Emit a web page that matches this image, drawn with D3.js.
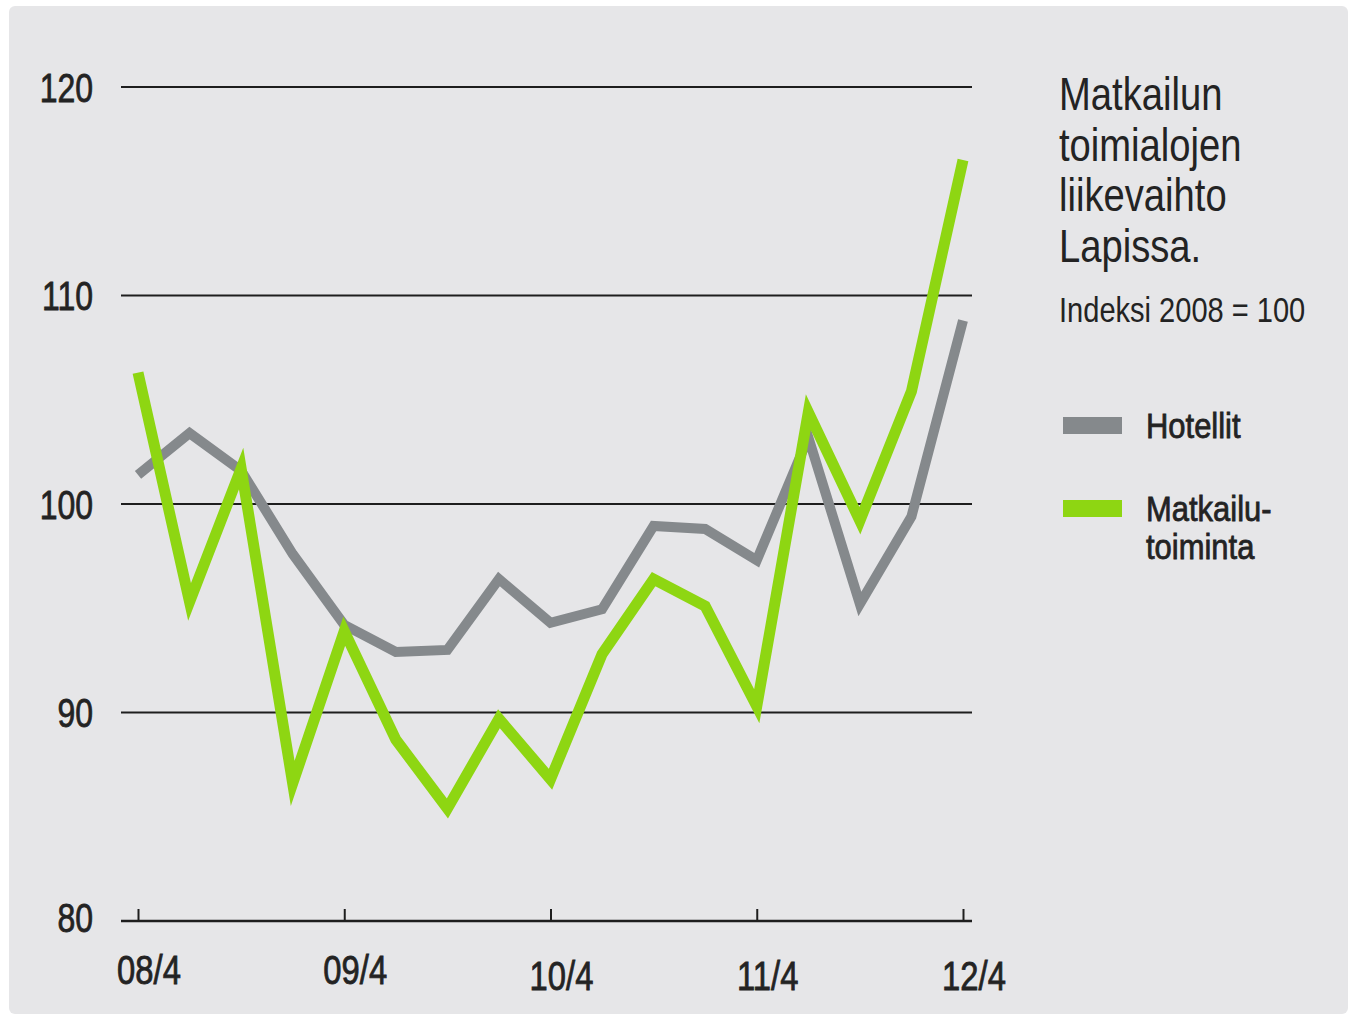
<!DOCTYPE html>
<html>
<head>
<meta charset="utf-8">
<script src="https://cdn.jsdelivr.net/npm/d3@7"></script>
<style>
    html, body { margin: 0; padding: 0; background: #ffffff; }
    svg text { font-family: "Liberation Sans", Arimo, Arial, sans-serif; fill: #232323; }
    svg text.medium { stroke: #232323; stroke-width: 0.8px; }
</style>
</head>
<body>
<div id="chart"></div>
<script>
"use strict";

// ------------------------- Data -------------------------

const quarters = ['08/4', '09/1', '09/2', '09/3', '09/4', '10/1', '10/2', '10/3', '10/4',
    '11/1', '11/2', '11/3', '11/4', '12/1', '12/2', '12/3', '12/4'];
const xTickLabels = ['08/4', '09/4', '10/4', '11/4', '12/4'];
const yTicks = [80, 90, 100, 110, 120];

const hotellit = [101.4, 103.4, 101.6, 97.6, 94.2, 92.9, 93.0, 96.4, 94.3,
    94.95, 98.95, 98.8, 97.3, 103.2, 95.2, 99.4, 108.8];
const matkailutoiminta = [106.3, 95.3, 101.7, 86.6, 93.9, 88.7, 85.4, 89.7, 86.8,
    92.8, 96.4, 95.1, 90.3, 104.4, 99.2, 105.4, 116.5];

const seriesNames = ['Hotellit', 'Matkailu-|toiminta'];
const seriesColors = ['#85898c', '#8ed612'];
const titleLines = ['Matkailun', 'toimialojen', 'liikevaihto', 'Lapissa.'];
const subtitle = 'Indeksi 2008 = 100';

// ------------------------- Layout -------------------------

const width = 1348;
const height = 1014;

const svg = d3.select('#chart')
    .append('svg')
    .attr('width', width)
    .attr('height', height);

svg.append('rect')
    .attr('x', 9)
    .attr('y', 6)
    .attr('width', width - 9)
    .attr('height', height - 6)
    .attr('rx', 6)
    .attr('fill', '#e6e6e8');

const x = d3.scalePoint()
    .domain(quarters)
    .range([138, 963]);

const y = d3.scaleLinear()
    .domain([80, 120])
    .range([921, 87]);

// The original typeface is a condensed grotesque; squeeze a regular one horizontally
function condense(selection, factor, px, py) {
    selection.attr('transform', (d, i) => `translate(${px(d, i)},${py(d, i)}) scale(${factor},1)`);
}

// ------------------------- Grid & axes -------------------------

svg.append('g')
    .selectAll('line')
    .data(yTicks.filter(t => t > 80))
    .join('line')
    .attr('x1', 121)
    .attr('x2', 972)
    .attr('y1', d => y(d))
    .attr('y2', d => y(d))
    .attr('stroke', '#1e1e1e')
    .attr('stroke-width', 2);

svg.append('g')
    .selectAll('text')
    .data(yTicks)
    .join('text')
    .classed('medium', true)
    .attr('dy', '0.36em')
    .attr('text-anchor', 'end')
    .style('font-size', '41px')
    .text(d => d)
    .call(condense, 0.78, () => 93, (d, i) => y(d) - (i === 0 ? 4 : 0));

const xAxis = svg.append('g')
    .attr('transform', `translate(0,${y(80)})`)
    .call(d3.axisBottom(x).tickValues(xTickLabels).tickSize(-12).tickFormat(''));

xAxis.select('.domain')
    .attr('d', 'M121,0H972')
    .attr('stroke', '#1e1e1e')
    .attr('stroke-width', 2.5);

xAxis.selectAll('.tick line')
    .attr('stroke', '#1e1e1e')
    .attr('stroke-width', 2);

svg.append('g')
    .selectAll('text')
    .data(xTickLabels)
    .join('text')
    .classed('medium', true)
    .attr('text-anchor', 'middle')
    .style('font-size', '40px')
    .text(d => d)
    .call(condense, 0.82, d => x(d) + 11, (d, i) => i < 2 ? 984 : 990);

// ------------------------- Lines -------------------------

const line = d3.line()
    .x((d, i) => x(quarters[i]))
    .y(d => y(d));

svg.append('g')
    .selectAll('path')
    .data([hotellit, matkailutoiminta])
    .join('path')
    .attr('d', line)
    .attr('fill', 'none')
    .attr('stroke', (d, i) => seriesColors[i])
    .attr('stroke-width', (d, i) => i === 0 ? 10 : 11)
    .attr('stroke-linejoin', 'miter')
    .attr('stroke-miterlimit', 10);

// ------------------------- Title & legend -------------------------

svg.append('g')
    .selectAll('text')
    .data(titleLines)
    .join('text')
    .style('font-size', '46px')
    .text(d => d)
    .call(condense, 0.83, () => 1059, (d, i) => 110 + i * 50.7);

svg.append('text')
    .datum(subtitle)
    .style('font-size', '35px')
    .text(d => d)
    .call(condense, 0.83, () => 1059, () => 322);

const legend = svg.append('g')
    .selectAll('g')
    .data(seriesNames)
    .join('g')
    .attr('transform', (d, i) => `translate(1063,${417 + i * 83})`);

legend.append('rect')
    .attr('width', 59)
    .attr('height', 17)
    .attr('fill', (d, i) => seriesColors[i]);

legend.append('text')
    .classed('medium', true)
    .style('font-size', '36px')
    .attr('transform', 'translate(83,21) scale(0.86,1)')
    .selectAll('tspan')
    .data(d => d.split('|'))
    .join('tspan')
    .attr('x', 0)
    .attr('dy', (d, i) => i === 0 ? 0 : 38)
    .text(d => d);
</script>
</body>
</html>
